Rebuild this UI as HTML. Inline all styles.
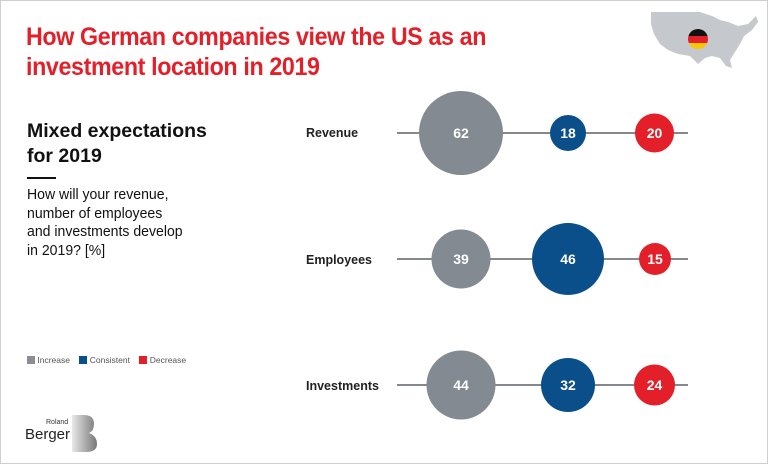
<!DOCTYPE html>
<html><head><meta charset="utf-8"><style>
html,body{margin:0;padding:0;background:#fff}
body{width:768px;height:464px;overflow:hidden;position:relative;font-family:"Liberation Sans",sans-serif}
.frame{position:absolute;left:0;top:0;width:766px;height:462px;border:1px solid #cfcfcf}
.t{position:absolute;white-space:nowrap}
</style></head><body>
<div class="frame"></div>
<div class="t" style="left:26px;top:22px;color:#e3202a;font-size:25px;font-weight:bold;line-height:30px;letter-spacing:-0.4px;transform:scaleX(0.93);transform-origin:0 0">How German companies view the US as an<br>investment location in 2019</div>
<div class="t" style="left:27px;top:119px;color:#111;font-size:19.5px;font-weight:bold;line-height:25px">Mixed expectations<br>for 2019</div>
<div style="position:absolute;left:27px;top:177px;width:29px;height:2px;background:#111"></div>
<div class="t" style="left:27px;top:186px;color:#111;font-size:14.5px;line-height:18.5px;transform:scaleX(0.97);transform-origin:0 0">How will your revenue,<br>number of employees<br>and investments develop<br>in 2019? [%]</div>
<div class="t" style="left:27px;top:354px;font-size:8.5px;color:#555;line-height:12px">
<span style="display:inline-block;width:8px;height:8px;background:#8a8f95;vertical-align:-1px"></span> Increase&nbsp;&nbsp;&nbsp;
<span style="display:inline-block;width:8px;height:8px;background:#0b4f8a;vertical-align:-1px"></span> Consistent&nbsp;&nbsp;&nbsp;
<span style="display:inline-block;width:8px;height:8px;background:#e3202a;vertical-align:-1px"></span> Decrease</div>
<div class="t" style="left:46px;top:419px;font-size:7px;color:#333">Roland</div>
<div class="t" style="left:25px;top:426px;font-size:15px;color:#222">Berger</div>
<svg style="position:absolute;left:70px;top:415px" width="28" height="38"><defs><linearGradient id="g" x1="0" x2="1"><stop offset="0" stop-color="#e8e8e8"/><stop offset="1" stop-color="#777"/></linearGradient></defs><path d="M2 0 H14 Q24 0 24 9 Q24 16 19 18 Q27 21 27 29 Q27 37 16 37 H2Z" fill="url(#g)"/></svg>
<svg style="position:absolute;left:0;top:0" width="768" height="464">
<g font-family="Liberation Sans,sans-serif" font-weight="bold" font-size="12.5" fill="#222">
<text x="306" y="137">Revenue</text><text x="306" y="264">Employees</text><text x="306" y="390">Investments</text></g>
<g stroke="#85898e" stroke-width="2"><line x1="397" y1="133" x2="688" y2="133"/><line x1="397" y1="259" x2="688" y2="259"/><line x1="397" y1="385" x2="688" y2="385"/></g>
<g font-family="Liberation Sans,sans-serif" font-weight="bold" font-size="14" fill="#fff" text-anchor="middle">
<circle cx="461" cy="133" r="42" fill="#848a91"/><text x="461" y="138">62</text>
<circle cx="568" cy="133" r="18" fill="#0b4f8a"/><text x="568" y="138">18</text>
<circle cx="654.5" cy="133" r="19.5" fill="#e3202a"/><text x="654.5" y="138">20</text>
<circle cx="461" cy="259" r="29.5" fill="#848a91"/><text x="461" y="264">39</text>
<circle cx="568" cy="259" r="36" fill="#0b4f8a"/><text x="568" y="264">46</text>
<circle cx="655" cy="259" r="16" fill="#e3202a"/><text x="655" y="264">15</text>
<circle cx="461" cy="385" r="34.5" fill="#848a91"/><text x="461" y="390">44</text>
<circle cx="568" cy="385" r="27" fill="#0b4f8a"/><text x="568" y="390">32</text>
<circle cx="654.5" cy="385" r="20.5" fill="#e3202a"/><text x="654.5" y="390">24</text>
</g>
<path d="M651 12 L700 12 L712 16 L720 20 L728 22 L738 26 L748 24 L756 16 L758 22 L752 30 L744 36 L740 44 L735 52 L730 60 L732 68 L726 66 L720 58 L712 56 L705 58 L698 64 L690 56 L678 54 L668 50 L660 44 L654 34 L651 24Z" fill="#c5c8cc"/>
<clipPath id="f"><circle cx="698" cy="39" r="10"/></clipPath>
<g clip-path="url(#f)"><rect x="688" y="29" width="20" height="7" fill="#111"/><rect x="688" y="36" width="20" height="7" fill="#e3202a"/><rect x="688" y="43" width="20" height="7" fill="#f7c800"/></g>
</svg>
</body></html>
